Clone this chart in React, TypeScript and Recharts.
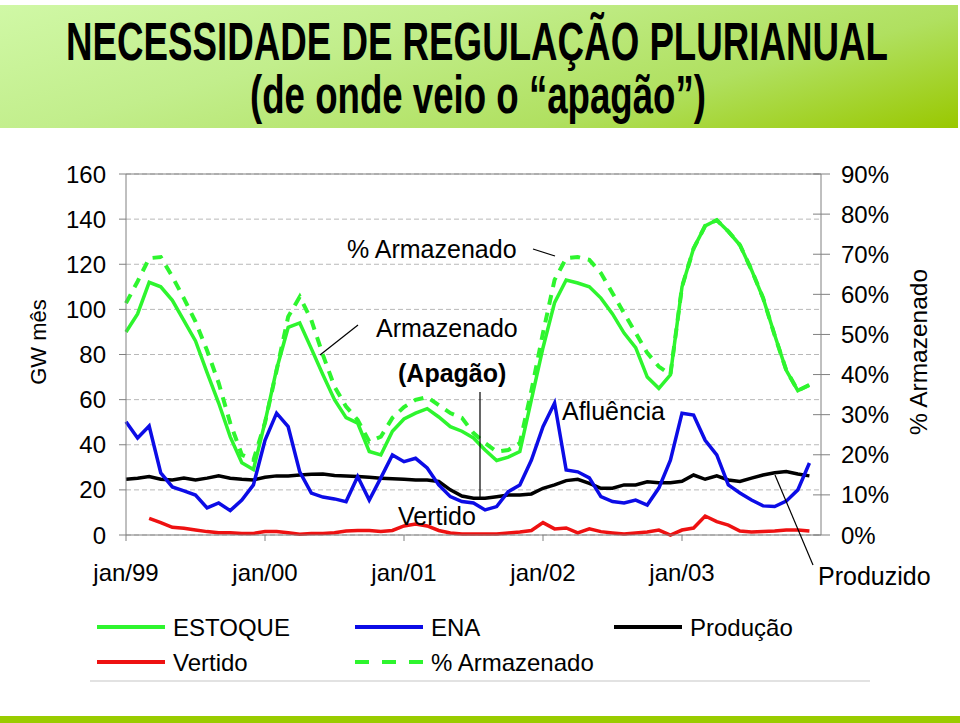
import React from "react";
import {
  LineChart,
  Line,
  XAxis,
  YAxis,
  CartesianGrid,
  ReferenceLine,
} from "recharts";

// monthly values, jan/99 .. dez/03
const estoque = [
  90, 98, 112, 110, 104, 95, 86, 72, 58.5, 43.5, 32, 29, 50, 73.5, 92, 94,
  82.6, 71, 60, 52, 49.6, 37, 35.5, 46, 51.4, 54, 56, 52.3, 48, 46, 43, 37.7,
  33, 34.5, 37, 60, 83, 103, 113, 111.7, 110, 105, 98, 89.5, 83, 70, 65, 71,
  110, 127, 137, 139.6, 134.5, 128.5, 117.5, 105, 88.6, 73, 64, 66.5,
];
const ena = [
  50.2, 43, 48.3, 27.5, 21.3, 19.6, 17.7, 12, 14.2, 10.8, 15.5, 22.2, 42, 54,
  48, 28, 18.6, 16.8, 16, 14.8, 25.9, 15.5, 25.3, 35.5, 32.5, 34, 29.7, 22.2,
  17, 14.8, 14.2, 11.1, 12.6, 19.2, 22.2, 33.2, 48, 58.5, 28.8, 28, 25.3, 17,
  14.8, 14.2, 15.5, 13.3, 20.8, 33.2, 54, 53.2, 42, 35.5, 22.2, 18.6, 15.5,
  12.9, 12.6, 15, 20, 31.9,
];
const producao = [
  24.7, 25.2, 25.9, 24.7, 24.4, 25.2, 24.4, 25.2, 26.2, 25.2, 24.7, 24.4, 25.6,
  26.2, 26.2, 26.6, 26.9, 27, 26.4, 26.2, 25.9, 25.6, 25.2, 24.9, 24.7, 24.4,
  24.4, 23.7, 20, 17.3, 16.3, 16.3, 17, 17.7, 17.7, 18.2, 20.7, 22.2, 24.1,
  24.7, 22.9, 20.7, 20.7, 22.2, 22.2, 23.6, 23.2, 23.2, 23.8, 26.6, 24.7, 26.2,
  24.4, 23.7, 25.2, 26.6, 27.6, 28.1, 27, 26.2,
];
const vertido = [
  null, null, 7.4, 5.5, 3.4, 3.0, 2.2, 1.5, 1.0, 1.0, 0.7, 0.7, 1.5, 1.5, 1.0,
  0.3, 0.7, 0.7, 1.0, 1.8, 2.0, 2.0, 1.5, 2.0, 4.0, 4.9, 4.0, 2.0, 0.9, 0.4,
  0.4, 0.4, 0.4, 0.9, 1.3, 2.0, 5.5, 2.7, 3.1, 0.9, 2.7, 1.5, 0.9, 0.4, 0.9,
  1.3, 2.2, 0, 2.2, 3.1, 8.4, 5.9, 4.4, 1.8, 1.3, 1.6, 1.8, 2.2, 2.2, 1.8,
];
// % Armazenado (right axis)
const pctArmazenado = [
  57.8, 63.2, 69, 69.3, 64.4, 59, 53.2, 46, 37.9, 27.9, 20, 18.7, 28, 41, 54.4,
  59.4, 53.6, 44.9, 37, 32, 28.7, 23.3, 24.5, 29.2, 31.9, 33.7, 34.4, 32.4,
  30.4, 29.2, 25.4, 22.9, 20.8, 21.2, 22.9, 36, 50.4, 63.6, 69, 69.3, 68.6,
  65.3, 60.3, 55.3, 50.4, 45.4, 42, 40, 61.9, 71.4, 77.1, 78.5, 75.7, 72.3,
  66.1, 59.1, 49.8, 41.1, 36, 37.4,
];

const xTicks = [0, 12, 24, 36, 48];
const xLabels = ["jan/99", "jan/00", "jan/01", "jan/02", "jan/03"];
const leftTicks = [0, 20, 40, 60, 80, 100, 120, 140, 160];
const rightTicks = [0, 10, 20, 30, 40, 50, 60, 70, 80, 90];

const data = estoque.map((v, i) => ({
  m: i,
  estoque: v,
  ena: ena[i],
  producao: producao[i],
  vertido: vertido[i],
  pct: pctArmazenado[i],
}));

const FONT = "'Liberation Sans', Arial, Helvetica, sans-serif";
const GREEN = "#2ef52e";
const BLUE = "#0c0ce6";
const RED = "#ee1111";
const AXIS = "#808080";

const legendItems = [
  { name: "ESTOQUE", color: GREEN, dash: undefined, x: 97, y: 627 },
  { name: "ENA", color: BLUE, dash: undefined, x: 355, y: 627 },
  { name: "Produção", color: "#000", dash: undefined, x: 614, y: 627 },
  { name: "Vertido", color: RED, dash: undefined, x: 97, y: 662 },
  { name: "% Armazenado", color: GREEN, dash: "14 13", x: 355, y: 662 },
];

function RightTick(props: any) {
  const { x, y, payload } = props;
  return (
    <g>
      <line x1={x - 8} x2={x + 9} y1={y} y2={y} stroke={AXIS} />
      <text
        x={x + 20}
        y={y}
        dy="0.355em"
        fontSize={24}
        fontFamily={FONT}
        fill="#000"
      >
        {payload.value}%
      </text>
    </g>
  );
}

export default function App() {
  return (
    <div
      style={{
        position: "absolute",
        left: 0,
        top: 0,
        width: 960,
        height: 723,
        background: "#fff",
        overflow: "hidden",
      }}
    >
      <div
        style={{
          position: "absolute",
          left: 0,
          top: 5,
          width: 958,
          height: 123,
          background:
            "linear-gradient(165deg, #d0f8a6 0%, #c2ee8c 35%, #b0e060 70%, #99c800 100%)",
        }}
      />
      <div
        style={{
          position: "absolute",
          left: 0,
          top: 716,
          width: 960,
          height: 7,
          background: "#99cc00",
        }}
      />

      <div style={{ position: "absolute", left: 0, top: 0 }}>
        <LineChart
          width={960}
          height={723}
          data={data}
          margin={{ top: 174, right: 0, bottom: 148, left: 0 }}
        >
          <CartesianGrid
            yAxisId="left"
            vertical={false}
            stroke="#b8b8b8"
            strokeDasharray="5 3"
          />
          <XAxis
            dataKey="m"
            type="number"
            domain={[0, 60]}
            ticks={xTicks}
            tickFormatter={(v: number) => xLabels[xTicks.indexOf(v)]}
            height={40}
            stroke={AXIS}
            tickSize={6}
            tickMargin={23}
            tick={{ fill: "#000", fontSize: 24, fontFamily: FONT }}
            interval={0}
          />
          <YAxis
            yAxisId="left"
            domain={[0, 160]}
            ticks={leftTicks}
            width={126}
            stroke={AXIS}
            tickSize={7}
            tickMargin={13}
            tick={{ fill: "#000", fontSize: 24, fontFamily: FONT }}
            interval={0}
          />
          <YAxis
            yAxisId="right"
            orientation="right"
            domain={[0, 90]}
            ticks={rightTicks}
            width={139}
            stroke={AXIS}
            tickLine={false}
            tickSize={0}
            tickMargin={0}
            tick={<RightTick />}
            interval={0}
          />
          <ReferenceLine yAxisId="left" y={160} stroke={AXIS} />
          <Line
            yAxisId="right"
            dataKey="pct"
            type="linear"
            stroke={GREEN}
            strokeWidth={4}
            strokeDasharray="10 8"
            dot={false}
            isAnimationActive={false}
          />
          <Line
            yAxisId="left"
            dataKey="estoque"
            type="linear"
            stroke={GREEN}
            strokeWidth={3.5}
            dot={false}
            isAnimationActive={false}
          />
          <Line
            yAxisId="left"
            dataKey="producao"
            type="linear"
            stroke="#000"
            strokeWidth={3.5}
            dot={false}
            isAnimationActive={false}
          />
          <Line
            yAxisId="left"
            dataKey="ena"
            type="linear"
            stroke={BLUE}
            strokeWidth={3.5}
            dot={false}
            isAnimationActive={false}
          />
          <Line
            yAxisId="left"
            dataKey="vertido"
            type="linear"
            stroke={RED}
            strokeWidth={3.5}
            dot={false}
            isAnimationActive={false}
          />
        </LineChart>
      </div>

      <svg
        width={960}
        height={723}
        style={{ position: "absolute", left: 0, top: 0, pointerEvents: "none" }}
      >
        <g fontFamily="'Liberation Sans Narrow', 'Liberation Sans', Arial, sans-serif" fontWeight="bold" fill="#000">
          <text x={66} y={60} fontSize={53} textLength={822} lengthAdjust="spacingAndGlyphs">
            NECESSIDADE DE REGULAÇÃO PLURIANUAL
          </text>
          <text x={250} y={113} fontSize={53} textLength={456} lengthAdjust="spacingAndGlyphs">
            (de onde veio o “apagão”)
          </text>
        </g>

        <g fontFamily={FONT} fill="#000" fontSize={25}>
          <text x={347} y={258}>% Armazenado</text>
          <text x={376} y={337}>Armazenado</text>
          <text x={398} y={382} fontWeight="bold">(Apagão)</text>
          <text x={562} y={420}>Afluência</text>
          <text x={398} y={525}>Vertido</text>
          <text x={818} y={585}>Produzido</text>
          <text
            transform="translate(46,342) rotate(-90)"
            textAnchor="middle"
            fontSize={22}
          >
            GW mês
          </text>
          <text
            transform="translate(927,352) rotate(-90)"
            textAnchor="middle"
            fontSize={24.5}
          >
            % Armazenado
          </text>
        </g>
        <g stroke="#000" strokeWidth={1.2}>
          <line x1={533} y1={249} x2={555} y2={256} />
          <line x1={358} y1={325} x2={320} y2={355} />
          <line x1={480} y1={392} x2={480} y2={497} />
          <line x1={775} y1={475} x2={813} y2={565} />
        </g>

        <line x1={90} y1={681} x2={870} y2={681} stroke="#d8d8d8" strokeWidth={1.5} />
        <g fontFamily={FONT} fontSize={24} fill="#000">
          {legendItems.map((it) => (
            <g key={it.name}>
              <line
                x1={it.x}
                x2={it.x + 68}
                y1={it.y}
                y2={it.y}
                stroke={it.color}
                strokeWidth={4}
                strokeDasharray={it.dash}
              />
              <text x={it.x + 76} y={it.y} dy="0.355em">
                {it.name}
              </text>
            </g>
          ))}
        </g>
      </svg>
    </div>
  );
}
